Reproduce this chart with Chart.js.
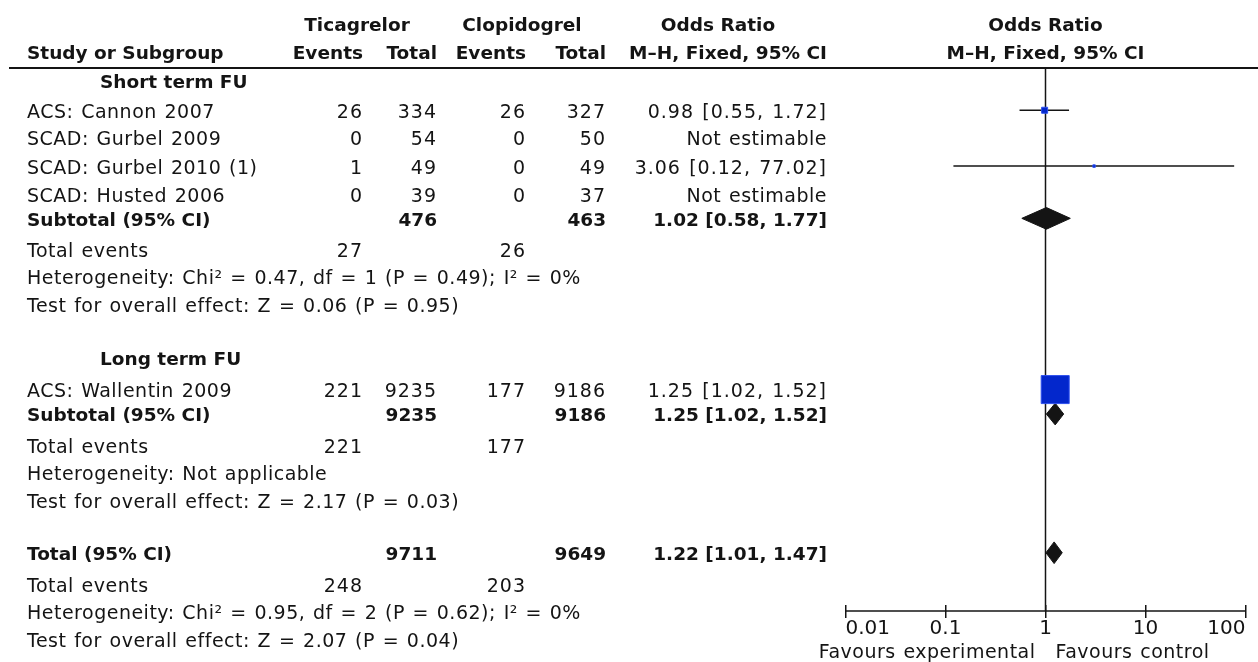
<!DOCTYPE html>
<html>
<head>
<meta charset="utf-8">
<title>Ticagrelor vs Clopidogrel – forest plot</title>
<script src="https://cdn.jsdelivr.net/npm/chart.js@4.4.1/dist/chart.umd.min.js"></script>
<style>
  html, body { margin: 0; padding: 0; background: #ffffff; overflow: hidden; }
  #wrap { position: relative; width: 1258px; height: 662px; }
</style>
</head>
<body>
<div id="wrap"><canvas id="forest"></canvas></div>
<script>
// ---------------- data ----------------
const studyLabels   = ['ACS: Cannon 2007', 'SCAD: Gurbel 2009', 'SCAD: Gurbel 2010 (1)', 'SCAD: Husted 2006', 'ACS: Wallentin 2009'];
const studyGroup    = [0, 0, 0, 0, 1];
const ticaEvents    = [26, 0, 1, 0, 221];
const ticaTotal     = [334, 54, 49, 39, 9235];
const clopiEvents   = [26, 0, 0, 0, 177];
const clopiTotal    = [327, 50, 49, 37, 9186];
const studyOR       = [0.98, null, 3.06, null, 1.25];
const studyLow      = [0.55, null, 0.12, null, 1.02];
const studyHigh     = [1.72, null, 77.02, null, 1.52];
const studyWeight   = [12.2, 0, 0.2, 0, 87.6];          // % weight (M-H, fixed)

const groupNames       = ['Short term FU', 'Long term FU'];
const groupTicaTotal   = [476, 9235];
const groupClopiTotal  = [463, 9186];
const groupTicaEvents  = [27, 221];
const groupClopiEvents = [26, 177];
const groupOR          = [1.02, 1.25];
const groupLow         = [0.58, 1.02];
const groupHigh        = [1.77, 1.52];
const groupHetero      = ['Heterogeneity: Chi\u00B2 = 0.47, df = 1 (P = 0.49); I\u00B2 = 0%', 'Heterogeneity: Not applicable'];
const groupEffect      = ['Test for overall effect: Z = 0.06 (P = 0.95)', 'Test for overall effect: Z = 2.17 (P = 0.03)'];

const overallTicaTotal   = 9711;
const overallClopiTotal  = 9649;
const overallTicaEvents  = 248;
const overallClopiEvents = 203;
const overallOR   = 1.22;
const overallLow  = 1.01;
const overallHigh = 1.47;
const overallHetero = 'Heterogeneity: Chi\u00B2 = 0.95, df = 2 (P = 0.62); I\u00B2 = 0%';
const overallEffect = 'Test for overall effect: Z = 2.07 (P = 0.04)';

const xTicks      = [0.01, 0.1, 1, 10, 100];
const xTickLabels = ['0.01', '0.1', '1', '10', '100'];
const favourLeft  = 'Favours experimental';
const favourRight = 'Favours control';

// ---------------- layout & style ----------------
const FONT = '"DejaVu Sans", "Liberation Sans", sans-serif';
const INK = '#141414';
const BOX_FILL = '#0327cc';
const BOX_EDGE = '#2d50ee';
const REG  = { size: 19,   spacing: 0.5, word: 1.2 };
const NUM  = { size: 19,   spacing: 1.0, word: 1.2 };
const BOLD = { size: 18.5, spacing: 0,   word: 0 };
const TICK = { size: 20,   spacing: 0,   word: 0 };

// vertical slot of each table line (1 unit = one text line)
const rowSlots = [0, 1.07, 2.06, 3.08, 4.10, 4.96, 6.08, 7.05, 8.06,
                  9.97, 11.12, 12.0, 13.12, 14.1, 15.12,
                  16.99, 18.13, 19.11, 20.1];
const headSlots = [-2.05, -1.04];
const TEXT_SHIFT = 2.6;
const DIAMOND_HALF = 0.39;
const TICK_LEN = 13;

const col = { label: 27, group: 100, tEv: 363, tTot: 437, cEv: 526, cTot: 606, or: 827 };
const headCenter = { tica: 357, clopi: 522, or: 718 };

function fmtCI(or, lo, hi) {
  if (or == null) return 'Not estimable';
  return or.toFixed(2) + ' [' + lo.toFixed(2) + ', ' + hi.toFixed(2) + ']';
}
function boxSide(w) {
  const maxW = Math.max(...studyWeight);
  return Math.max(2.5, 28 * Math.pow(w / maxW, 0.78));
}

// ---------------- table lines ----------------
// cell: [text, x, align, style]  style: 'r' regular, 'n' numeric, 'b' bold
const rows = [];
let slotIdx = 0;
const studySlot = [];
const groupSlot = [];
groupNames.forEach((gName, g) => {
  rows.push({ slot: rowSlots[slotIdx++], cells: [[gName, col.group, 'left', 'b']] });
  studyLabels.forEach((name, i) => {
    if (studyGroup[i] !== g) return;
    studySlot[i] = rowSlots[slotIdx];
    rows.push({ slot: rowSlots[slotIdx++], cells: [
      [name, col.label, 'left', 'r'],
      [String(ticaEvents[i]), col.tEv, 'right', 'n'],
      [String(ticaTotal[i]), col.tTot, 'right', 'n'],
      [String(clopiEvents[i]), col.cEv, 'right', 'n'],
      [String(clopiTotal[i]), col.cTot, 'right', 'n'],
      [fmtCI(studyOR[i], studyLow[i], studyHigh[i]), col.or, 'right', studyOR[i] == null ? 'r' : 'n']
    ]});
  });
  groupSlot[g] = rowSlots[slotIdx];
  rows.push({ slot: rowSlots[slotIdx++], cells: [
    ['Subtotal (95% CI)', col.label, 'left', 'b'],
    [String(groupTicaTotal[g]), col.tTot, 'right', 'b'],
    [String(groupClopiTotal[g]), col.cTot, 'right', 'b'],
    [fmtCI(groupOR[g], groupLow[g], groupHigh[g]), col.or, 'right', 'b']
  ]});
  rows.push({ slot: rowSlots[slotIdx++], cells: [
    ['Total events', col.label, 'left', 'r'],
    [String(groupTicaEvents[g]), col.tEv, 'right', 'n'],
    [String(groupClopiEvents[g]), col.cEv, 'right', 'n']
  ]});
  rows.push({ slot: rowSlots[slotIdx++], cells: [[groupHetero[g], col.label, 'left', 'r']] });
  rows.push({ slot: rowSlots[slotIdx++], cells: [[groupEffect[g], col.label, 'left', 'r']] });
});
const overallSlot = rowSlots[slotIdx];
rows.push({ slot: rowSlots[slotIdx++], cells: [
  ['Total (95% CI)', col.label, 'left', 'b'],
  [String(overallTicaTotal), col.tTot, 'right', 'b'],
  [String(overallClopiTotal), col.cTot, 'right', 'b'],
  [fmtCI(overallOR, overallLow, overallHigh), col.or, 'right', 'b']
]});
rows.push({ slot: rowSlots[slotIdx++], cells: [
  ['Total events', col.label, 'left', 'r'],
  [String(overallTicaEvents), col.tEv, 'right', 'n'],
  [String(overallClopiEvents), col.cEv, 'right', 'n']
]});
rows.push({ slot: rowSlots[slotIdx++], cells: [[overallHetero, col.label, 'left', 'r']] });
rows.push({ slot: rowSlots[slotIdx++], cells: [[overallEffect, col.label, 'left', 'r']] });

// ---------------- datasets ----------------
const datasets = [];

// study boxes
datasets.push({
  type: 'scatter',
  order: 0,
  data: studyLabels.map((_, i) => i).filter(i => studyOR[i] != null)
        .map(i => ({ x: studyOR[i], y: studySlot[i], w: studyWeight[i] })),
  pointStyle: 'rect',
  pointRadius: c => boxSide(c.raw.w) * Math.SQRT1_2,
  pointHoverRadius: c => boxSide(c.raw.w) * Math.SQRT1_2,
  backgroundColor: BOX_FILL,
  borderColor: BOX_EDGE,
  borderWidth: 1
});

// confidence interval whiskers
studyLabels.forEach((_, i) => {
  if (studyOR[i] == null) return;
  datasets.push({
    type: 'line',
    order: 2,
    data: [{ x: studyLow[i], y: studySlot[i] }, { x: studyHigh[i], y: studySlot[i] }],
    borderColor: INK,
    borderWidth: 1.5,
    pointRadius: 0,
    fill: false
  });
});

// pooled estimates as diamonds
function diamond(or, lo, hi, s) {
  return {
    type: 'line',
    order: 0,
    data: [{ x: lo, y: s }, { x: or, y: s - DIAMOND_HALF }, { x: hi, y: s },
           { x: or, y: s + DIAMOND_HALF }, { x: lo, y: s }],
    borderColor: INK,
    backgroundColor: INK,
    borderWidth: 1,
    pointRadius: 0,
    tension: 0,
    fill: 'shape'
  };
}
groupNames.forEach((_, g) => datasets.push(diamond(groupOR[g], groupLow[g], groupHigh[g], groupSlot[g])));
datasets.push(diamond(overallOR, overallLow, overallHigh, overallSlot));

// ---------------- table / frame plugin ----------------
function drawText(ctx, s, x, y, align, style) {
  const f = style === 'b' ? BOLD : style === 'n' ? NUM : style === 't' ? TICK : REG;
  ctx.font = (style === 'b' ? 'bold ' : '') + f.size + 'px ' + FONT;
  ctx.letterSpacing = f.spacing + 'px';
  ctx.wordSpacing = f.word + 'px';
  ctx.textAlign = align;
  ctx.textBaseline = 'middle';
  ctx.fillStyle = INK;
  ctx.fillText(s, x, y);
}

const forestFrame = {
  id: 'forestFrame',
  beforeDatasetsDraw(chart) {
    const { ctx, chartArea, scales: { x } } = chart;
    const axisY = chartArea.bottom + 6;
    ctx.save();
    ctx.strokeStyle = INK;
    // rule under the column headings
    ctx.lineWidth = 2;
    ctx.beginPath();
    ctx.moveTo(9, chartArea.top);
    ctx.lineTo(chart.width, chartArea.top);
    ctx.stroke();
    // line of no effect
    ctx.lineWidth = 1.5;
    const x1 = x.getPixelForValue(1);
    ctx.beginPath();
    ctx.moveTo(x1, chartArea.top);
    ctx.lineTo(x1, axisY);
    ctx.stroke();
    // axis baseline
    ctx.beginPath();
    ctx.moveTo(x.getPixelForValue(xTicks[0]), axisY);
    ctx.lineTo(x.getPixelForValue(xTicks[xTicks.length - 1]), axisY);
    ctx.stroke();
    ctx.restore();
  },
  afterDraw(chart) {
    const { ctx, chartArea, scales: { x, y } } = chart;
    ctx.save();
    const hy = headSlots.map(s => y.getPixelForValue(s) + TEXT_SHIFT);
    const xc = x.getPixelForValue(1);
    drawText(ctx, 'Ticagrelor', headCenter.tica, hy[0], 'center', 'b');
    drawText(ctx, 'Clopidogrel', headCenter.clopi, hy[0], 'center', 'b');
    drawText(ctx, 'Odds Ratio', headCenter.or, hy[0], 'center', 'b');
    drawText(ctx, 'Odds Ratio', xc, hy[0], 'center', 'b');
    drawText(ctx, 'Study or Subgroup', col.label, hy[1], 'left', 'b');
    drawText(ctx, 'Events', col.tEv, hy[1], 'right', 'b');
    drawText(ctx, 'Total', col.tTot, hy[1], 'right', 'b');
    drawText(ctx, 'Events', col.cEv, hy[1], 'right', 'b');
    drawText(ctx, 'Total', col.cTot, hy[1], 'right', 'b');
    drawText(ctx, 'M\u2013H, Fixed, 95% CI', col.or, hy[1], 'right', 'b');
    drawText(ctx, 'M\u2013H, Fixed, 95% CI', xc, hy[1], 'center', 'b');

    rows.forEach(r => {
      const py = y.getPixelForValue(r.slot) + TEXT_SHIFT;
      r.cells.forEach(([s, cx, align, style]) => drawText(ctx, s, cx, py, align, style));
    });

    // axis tick labels: end labels sit inside the axis span
    const ty = chartArea.bottom + TICK_LEN + 11;
    x.ticks.forEach((t, k) => {
      const align = k === 0 ? 'left' : k === x.ticks.length - 1 ? 'right' : 'center';
      const idx = xTicks.indexOf(t.value);
      drawText(ctx, idx >= 0 ? xTickLabels[idx] : '', x.getPixelForValue(t.value), ty, align, 't');
    });

    const fy = chartArea.bottom + 48;
    drawText(ctx, favourLeft, xc - 10, fy, 'right', 'r');
    drawText(ctx, favourRight, xc + 10, fy, 'left', 'r');
    ctx.restore();
  }
};

// ---------------- chart ----------------
new Chart(document.getElementById('forest'), {
  type: 'scatter',
  data: { datasets },
  plugins: [forestFrame],
  options: {
    responsive: true,
    maintainAspectRatio: false,
    animation: false,
    events: [],
    layout: { autoPadding: false, padding: { left: 845.5, right: 12.5, top: 68, bottom: 44 } },
    plugins: { legend: { display: false }, tooltip: { enabled: false } },
    scales: {
      x: {
        type: 'logarithmic',
        min: xTicks[0],
        max: xTicks[xTicks.length - 1],
        afterBuildTicks: s => { s.ticks = xTicks.map(v => ({ value: v })); },
        border: { display: false },
        grid: { drawOnChartArea: false, drawTicks: true, tickLength: TICK_LEN, color: INK, lineWidth: 1.5 },
        ticks: { display: false }
      },
      y: {
        type: 'linear',
        display: false,
        reverse: true,
        min: -0.45,
        max: 18.87
      }
    }
  }
});
</script>
</body>
</html>
